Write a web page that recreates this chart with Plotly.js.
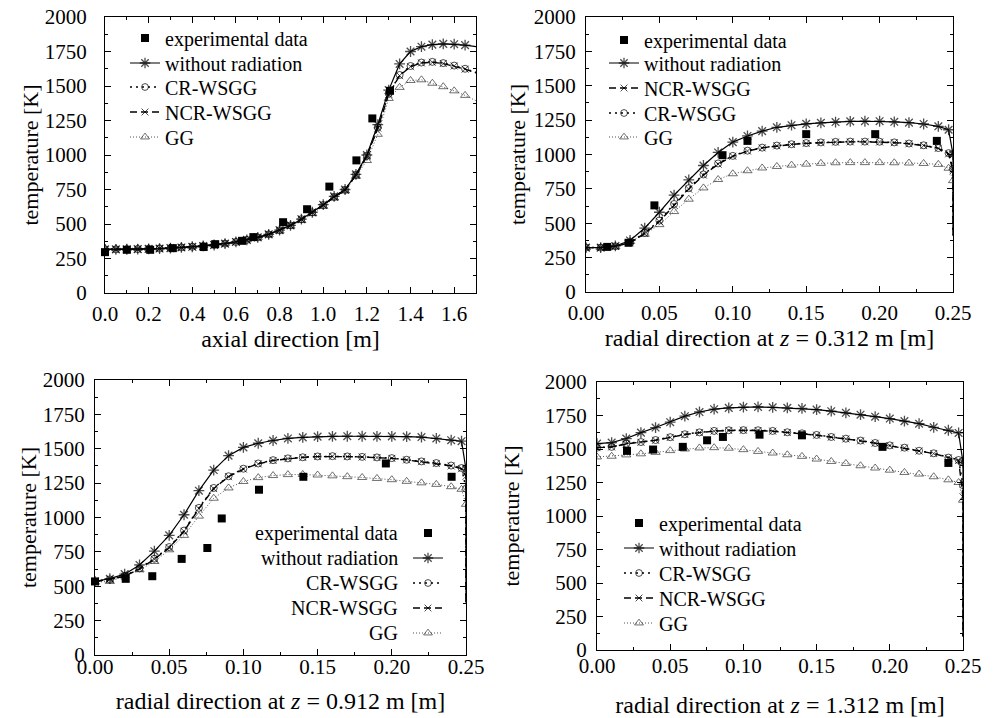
<!DOCTYPE html>
<html><head><meta charset="utf-8">
<script src="https://cdn.plot.ly/plotly-3.0.1.min.js"></script>
<style>html,body{margin:0;padding:0;background:#fff}#chart{width:994px;height:718px}</style>
</head><body><div id="chart"></div>
<script>
const FONT = 'Liberation Serif';

// ---------- Panel 1: axial profile ----------
const axialX = [0.00,0.05,0.10,0.15,0.20,0.25,0.30,0.35,0.40,0.45,0.50,0.55,0.60,0.65,0.70,0.75,0.80,0.85,0.90,0.95,1.00,1.05,1.10,1.15,1.20,1.25,1.30,1.35,1.40,1.45,1.50,1.55,1.60,1.65,1.70];
const axialNoRad = [316,316,317,318,320,322,325,330,335,341,348,358,370,385,403,425,455,490,535,585,640,700,750,860,1000,1220,1470,1660,1750,1785,1800,1805,1803,1796,1785];
const axialCR    = [316,316,317,318,320,322,325,330,335,341,348,358,370,385,403,425,455,490,535,585,638,697,748,857,995,1200,1445,1580,1645,1670,1675,1666,1648,1625,1598];
const axialNCR   = [316,316,317,318,320,322,325,330,335,341,348,358,370,385,403,425,455,490,534,583,636,695,745,853,990,1195,1440,1575,1640,1667,1672,1663,1645,1622,1595];
const axialGG    = [322,322,323,324,325,327,330,334,338,344,351,360,372,386,403,424,450,485,525,575,628,688,740,845,960,1150,1410,1490,1540,1545,1520,1495,1465,1432,1393];
const axialExpX  = [0.0,0.10,0.207,0.311,0.452,0.505,0.628,0.68,0.816,0.926,1.028,1.152,1.225,1.306];
const axialExpT  = [296,313,313,325,333,354,378,405,513,607,771,961,1265,1465];

// ---------- Radial profiles (shared radial grid) ----------
const radialX = [0.00,0.01,0.02,0.03,0.04,0.05,0.06,0.07,0.08,0.09,0.10,0.11,0.12,0.13,0.14,0.15,0.16,0.17,0.18,0.19,0.20,0.21,0.22,0.23,0.24,0.247,0.25,0.25];

// z = 0.312 m
const r312NoRad = [323,323,335,375,465,580,705,815,920,1015,1090,1135,1170,1198,1213,1223,1230,1236,1241,1242,1242,1238,1232,1222,1205,1180,1000,450];
const r312CR    = [323,323,333,360,430,520,640,755,855,935,990,1028,1050,1065,1075,1083,1088,1092,1094,1094,1093,1088,1080,1067,1047,1010,896,400];
const r312NCR   = [323,323,332,358,425,512,630,748,850,930,987,1025,1048,1063,1073,1081,1086,1090,1092,1092,1091,1086,1078,1065,1045,1005,880,400];
const r312GG    = [323,323,330,368,420,490,585,675,757,818,860,882,902,913,923,930,936,940,941,941,941,940,938,935,928,900,810,400];
const r312ExpX  = [0.0145,0.029,0.0466,0.093,0.11,0.15,0.197,0.239];
const r312ExpT  = [328,358,630,995,1099,1148,1148,1099];

// z = 0.912 m
const r912NoRad = [535,555,588,655,755,870,1020,1195,1345,1450,1510,1540,1560,1575,1583,1588,1590,1591,1591,1590,1590,1588,1585,1575,1562,1555,1350,380];
const r912CR    = [535,550,575,630,700,785,905,1070,1215,1300,1355,1393,1417,1430,1438,1444,1446,1444,1441,1437,1432,1420,1408,1396,1378,1360,1210,380];
const r912NCR   = [535,550,573,627,697,780,900,1065,1210,1297,1352,1390,1415,1428,1437,1443,1445,1443,1440,1436,1430,1419,1406,1393,1375,1355,1300,386];
const r912GG    = [530,535,575,620,680,765,870,1010,1140,1215,1262,1290,1305,1312,1313,1309,1303,1297,1291,1284,1275,1263,1252,1241,1224,1205,1096,380];
const r912ExpX  = [0.0,0.0207,0.0386,0.0584,0.0757,0.0854,0.1105,0.1404,0.196,0.2403];
const r912ExpT  = [535,554,573,699,778,993,1202,1296,1393,1296];

// z = 1.312 m
const r1312NoRad = [1540,1548,1578,1622,1660,1700,1745,1776,1797,1807,1813,1814,1811,1807,1803,1794,1782,1770,1756,1741,1727,1708,1689,1662,1640,1620,1400,100];
const r1312CR    = [1510,1516,1540,1552,1567,1588,1610,1624,1635,1640,1641,1640,1635,1625,1617,1605,1590,1577,1563,1545,1527,1510,1487,1468,1436,1418,1230,100];
const r1312NCR   = [1510,1515,1538,1550,1565,1586,1608,1622,1633,1638,1640,1638,1633,1623,1615,1603,1588,1575,1561,1543,1525,1508,1485,1466,1434,1415,1143,100];
const r1312GG    = [1441,1446,1456,1464,1475,1488,1500,1508,1510,1506,1495,1482,1470,1457,1445,1425,1407,1392,1375,1358,1342,1325,1313,1293,1270,1250,1118,100];
const r1312ExpX  = [0.0205,0.0383,0.0586,0.0752,0.086,0.111,0.140,0.195,0.240];
const r1312ExpT  = [1486,1496,1516,1565,1590,1607,1602,1516,1396];

const seriesNames = {exp:'experimental data', norad:'without radiation', cr:'CR-WSGG', ncr:'NCR-WSGG', gg:'GG'};

// ---------- styling ----------
const W = 994, H = 718;
const f = size => ({family:FONT, size:size, color:'#000'});
const STYLE = {
  exp:   {mode:'markers', marker:{symbol:'square', size:8, color:'#000'}},
  norad: {mode:'lines+markers', line:{color:'#000', width:1.2}, marker:{symbol:'asterisk-open', size:9, color:'#000', line:{width:1.3, color:'#000'}}},
  cr:    {mode:'lines+markers', line:{color:'#000', width:1.5, dash:'2px,4px'}, marker:{symbol:'circle-open', size:7, color:'#000', line:{width:1, color:'#000'}}},
  ncr:   {mode:'lines+markers', line:{color:'#000', width:1.4, dash:'7px,4px'}, marker:{symbol:'x-thin-open', size:7, color:'#000', line:{width:1, color:'#000'}}},
  gg:    {mode:'lines+markers', line:{color:'#555', width:1, dash:'1px,2px'}, marker:{symbol:'triangle-up-open', size:8, color:'#333', line:{width:1, color:'#333'}}}
};

const panels = [
  {box:{l:105, r:476, t:17,  b:293}, range:[0,1.7],  dtick:0.2,  minor:0.1,   fmt:'.1f',
   gap:{xl:2, xt:0, yl:13, yt:0},
   title:'axial direction [m]',
   data:{x:axialX, norad:axialNoRad, cr:axialCR, ncr:axialNCR, gg:axialGG, expX:axialExpX, expT:axialExpT},
   legend:{order:['exp','norad','cr','ncr','gg'], rows:[38,63,87,112,137], sym:145, side:'left'}},
  {box:{l:586, r:953, t:17,  b:292}, range:[0,0.25], dtick:0.05, minor:0.025, fmt:'.2f',
   gap:{xl:2, xt:0, yl:5, yt:2},
   title:'radial direction at <i>z</i> = 0.312 m [m]',
   data:{x:radialX, norad:r312NoRad, cr:r312CR, ncr:r312NCR, gg:r312GG, expX:r312ExpX, expT:r312ExpT},
   legend:{order:['exp','norad','ncr','cr','gg'], rows:[40,63,88,113,137], sym:624, side:'left'}},
  {box:{l:95,  r:466, t:380, b:655}, range:[0,0.25], dtick:0.05, minor:0.025, fmt:'.2f',
   gap:{xl:-7, xt:13, yl:5, yt:0},
   title:'radial direction at <i>z</i> = 0.912 m [m]',
   data:{x:radialX, norad:r912NoRad, cr:r912CR, ncr:r912NCR, gg:r912GG, expX:r912ExpX, expT:r912ExpT},
   legend:{order:['exp','norad','cr','ncr','gg'], rows:[533,558,583,608,633], sym:428, side:'right', textRight:400}},
  {box:{l:597, r:963, t:382, b:650}, range:[0,0.25], dtick:0.05, minor:0.025, fmt:'.2f',
   gap:{xl:-3, xt:20, yl:5, yt:19},
   title:'radial direction at <i>z</i> = 1.312 m [m]',
   data:{x:radialX, norad:r1312NoRad, cr:r1312CR, ncr:r1312NCR, gg:r1312GG, expX:r1312ExpX, expT:r1312ExpT},
   legend:{order:['exp','norad','cr','ncr','gg'], rows:[523,548,573,598,623], sym:639, side:'left'}}
];

const traces = [];
const layout = {
  width:W, height:H, margin:{l:0,r:0,t:0,b:0}, paper_bgcolor:'#fff', plot_bgcolor:'#fff',
  showlegend:true, annotations:[]
};

let legendCount = 0;
panels.forEach((p, i) => {
  const n = i + 1;
  const xk = n === 1 ? 'xaxis' : 'xaxis' + n;
  const yk = n === 1 ? 'yaxis' : 'yaxis' + n;
  const xref = n === 1 ? 'x' : 'x' + n;
  const yref = n === 1 ? 'y' : 'y' + n;
  const common = () => ({
    showline:true, linecolor:'#000', linewidth:1, mirror:'ticks', zeroline:false, showgrid:false,
    ticks:'inside', ticklen:6, tickwidth:1, tickcolor:'#000',
    tickfont:f(21), automargin:false
  });
  layout[xk] = Object.assign(common(), {
    domain:[p.box.l / W, p.box.r / W], anchor:yref, range:p.range, dtick:p.dtick, tick0:0,
    tickformat:p.fmt, ticklabelstandoff:p.gap.xl,
    minor:{dtick:p.minor, ticks:'inside', ticklen:3, tickcolor:'#000', showgrid:false},
    title:{text:p.title, font:f(24), standoff:p.gap.xt}
  });
  layout[yk] = Object.assign(common(), {
    domain:[1 - p.box.b / H, 1 - p.box.t / H], anchor:xref, range:[0,2000], dtick:250, tick0:0,
    ticklabelstandoff:p.gap.yl,
    minor:{dtick:125, ticks:'inside', ticklen:3, tickcolor:'#000', showgrid:false},
    title:{text:'temperature [K]', font:f(22), standoff:p.gap.yt}
  });

  const legendKeyFor = {};
  p.legend.order.forEach((key, j) => {
    legendCount += 1;
    const lk = legendCount === 1 ? 'legend' : 'legend' + legendCount;
    legendKeyFor[key] = lk;
    layout[lk] = {
      x:(p.legend.sym - 20) / W, xanchor:'left', y:1 - p.legend.rows[j] / H, yanchor:'middle',
      bgcolor:'rgba(0,0,0,0)', borderwidth:0, font:f(20)
    };
    if (p.legend.side === 'right') {
      layout.annotations.push({
        xref:'paper', yref:'paper', x:p.legend.textRight / W, y:1 - p.legend.rows[j] / H,
        xanchor:'right', yanchor:'middle', showarrow:false, text:seriesNames[key], font:f(20)
      });
    }
  });

  const nameFor = key => (p.legend.side === 'right' ? ' ' : seriesNames[key]);
  const lastHidden = (arr, size) => arr.map((_, k) => (k === arr.length - 1 ? 0 : size));

  ['gg','ncr','cr','norad'].forEach(key => {
    const st = STYLE[key];
    const ys = p.data[key];
    traces.push({
      type:'scatter', x:p.data.x, y:ys, xaxis:xref, yaxis:yref, name:nameFor(key),
      legend:legendKeyFor[key], mode:st.mode, line:st.line,
      marker:Object.assign({}, st.marker, {size:lastHidden(ys, st.marker.size)}),
      hoverinfo:'skip'
    });
  });
  traces.push({
    type:'scatter', x:p.data.expX, y:p.data.expT, xaxis:xref, yaxis:yref, name:nameFor('exp'),
    legend:legendKeyFor.exp, mode:'markers', marker:STYLE.exp.marker, cliponaxis:false, hoverinfo:'skip'
  });
});

Plotly.newPlot('chart', traces, layout, {displayModeBar:false});
</script></body></html>
